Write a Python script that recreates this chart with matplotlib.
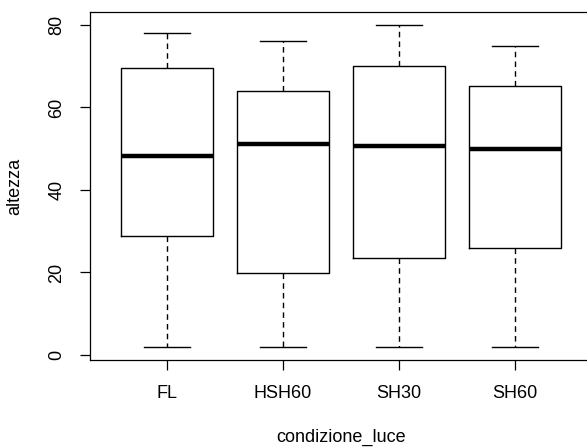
"""Boxplot of altezza by condizione_luce (R base style)."""

import matplotlib

matplotlib.use("Agg")
import matplotlib.pyplot as plt

GROUPS = ["FL", "HSH60", "SH30", "SH60"]
WHISK_LO = [2, 2, 2, 2]
Q1 = [28.9, 19.9, 23.5, 25.9]
MEDIAN = [48.2, 51.2, 50.6, 50.0]
Q3 = [69.5, 64.0, 70.0, 65.2]
WHISK_HI = [78, 76, 80, 75]

plt.rcParams["font.family"] = ["Liberation Sans", "DejaVu Sans"]

W, H, DPI = 587, 448, 100
fig = plt.figure(figsize=(W / DPI, H / DPI), dpi=DPI)
ax = fig.add_axes([90.4 / W, 1 - 359.6 / H, (591.6 - 90.4) / W, (359.6 - 12.1) / H])

stats = []
for name, lo, q1, med, q3, hi in zip(GROUPS, WHISK_LO, Q1, MEDIAN, Q3, WHISK_HI):
    stats.append(
        {"label": name, "whislo": lo, "q1": q1, "med": med, "q3": q3, "whishi": hi, "fliers": []}
    )

ax.bxp(
    stats,
    positions=range(1, len(GROUPS) + 1),
    widths=0.8,
    showfliers=False,
    boxprops=dict(color="black", linewidth=1.0),
    medianprops=dict(color="black", linewidth=3.2, solid_capstyle="butt"),
    whiskerprops=dict(color="black", linewidth=1.0, linestyle=(0, (4, 3))),
    capprops=dict(color="black", linewidth=1.0),
    capwidths=0.4,
)

ax.set_xlim(0.34, 4.66)
ax.set_ylim(-1.12, 83.12)
ax.set_yticks([0, 20, 40, 60, 80])
ax.set_xticks(range(1, len(GROUPS) + 1))
ax.set_xticklabels(GROUPS)
ax.tick_params(axis="both", direction="out", length=7, width=0.9, labelsize=13, pad=11)
for lab in ax.get_yticklabels():
    lab.set_rotation(90)
    lab.set_va("center")
for sp in ax.spines.values():
    sp.set_linewidth(0.9)

fig.text(341 / W, 1 - 437 / H, "condizione_luce", ha="center", va="center", fontsize=13)
fig.text(15 / W, 1 - 186 / H, "altezza", ha="center", va="center", rotation=90, fontsize=13)

fig.savefig("out.png", dpi=DPI)
